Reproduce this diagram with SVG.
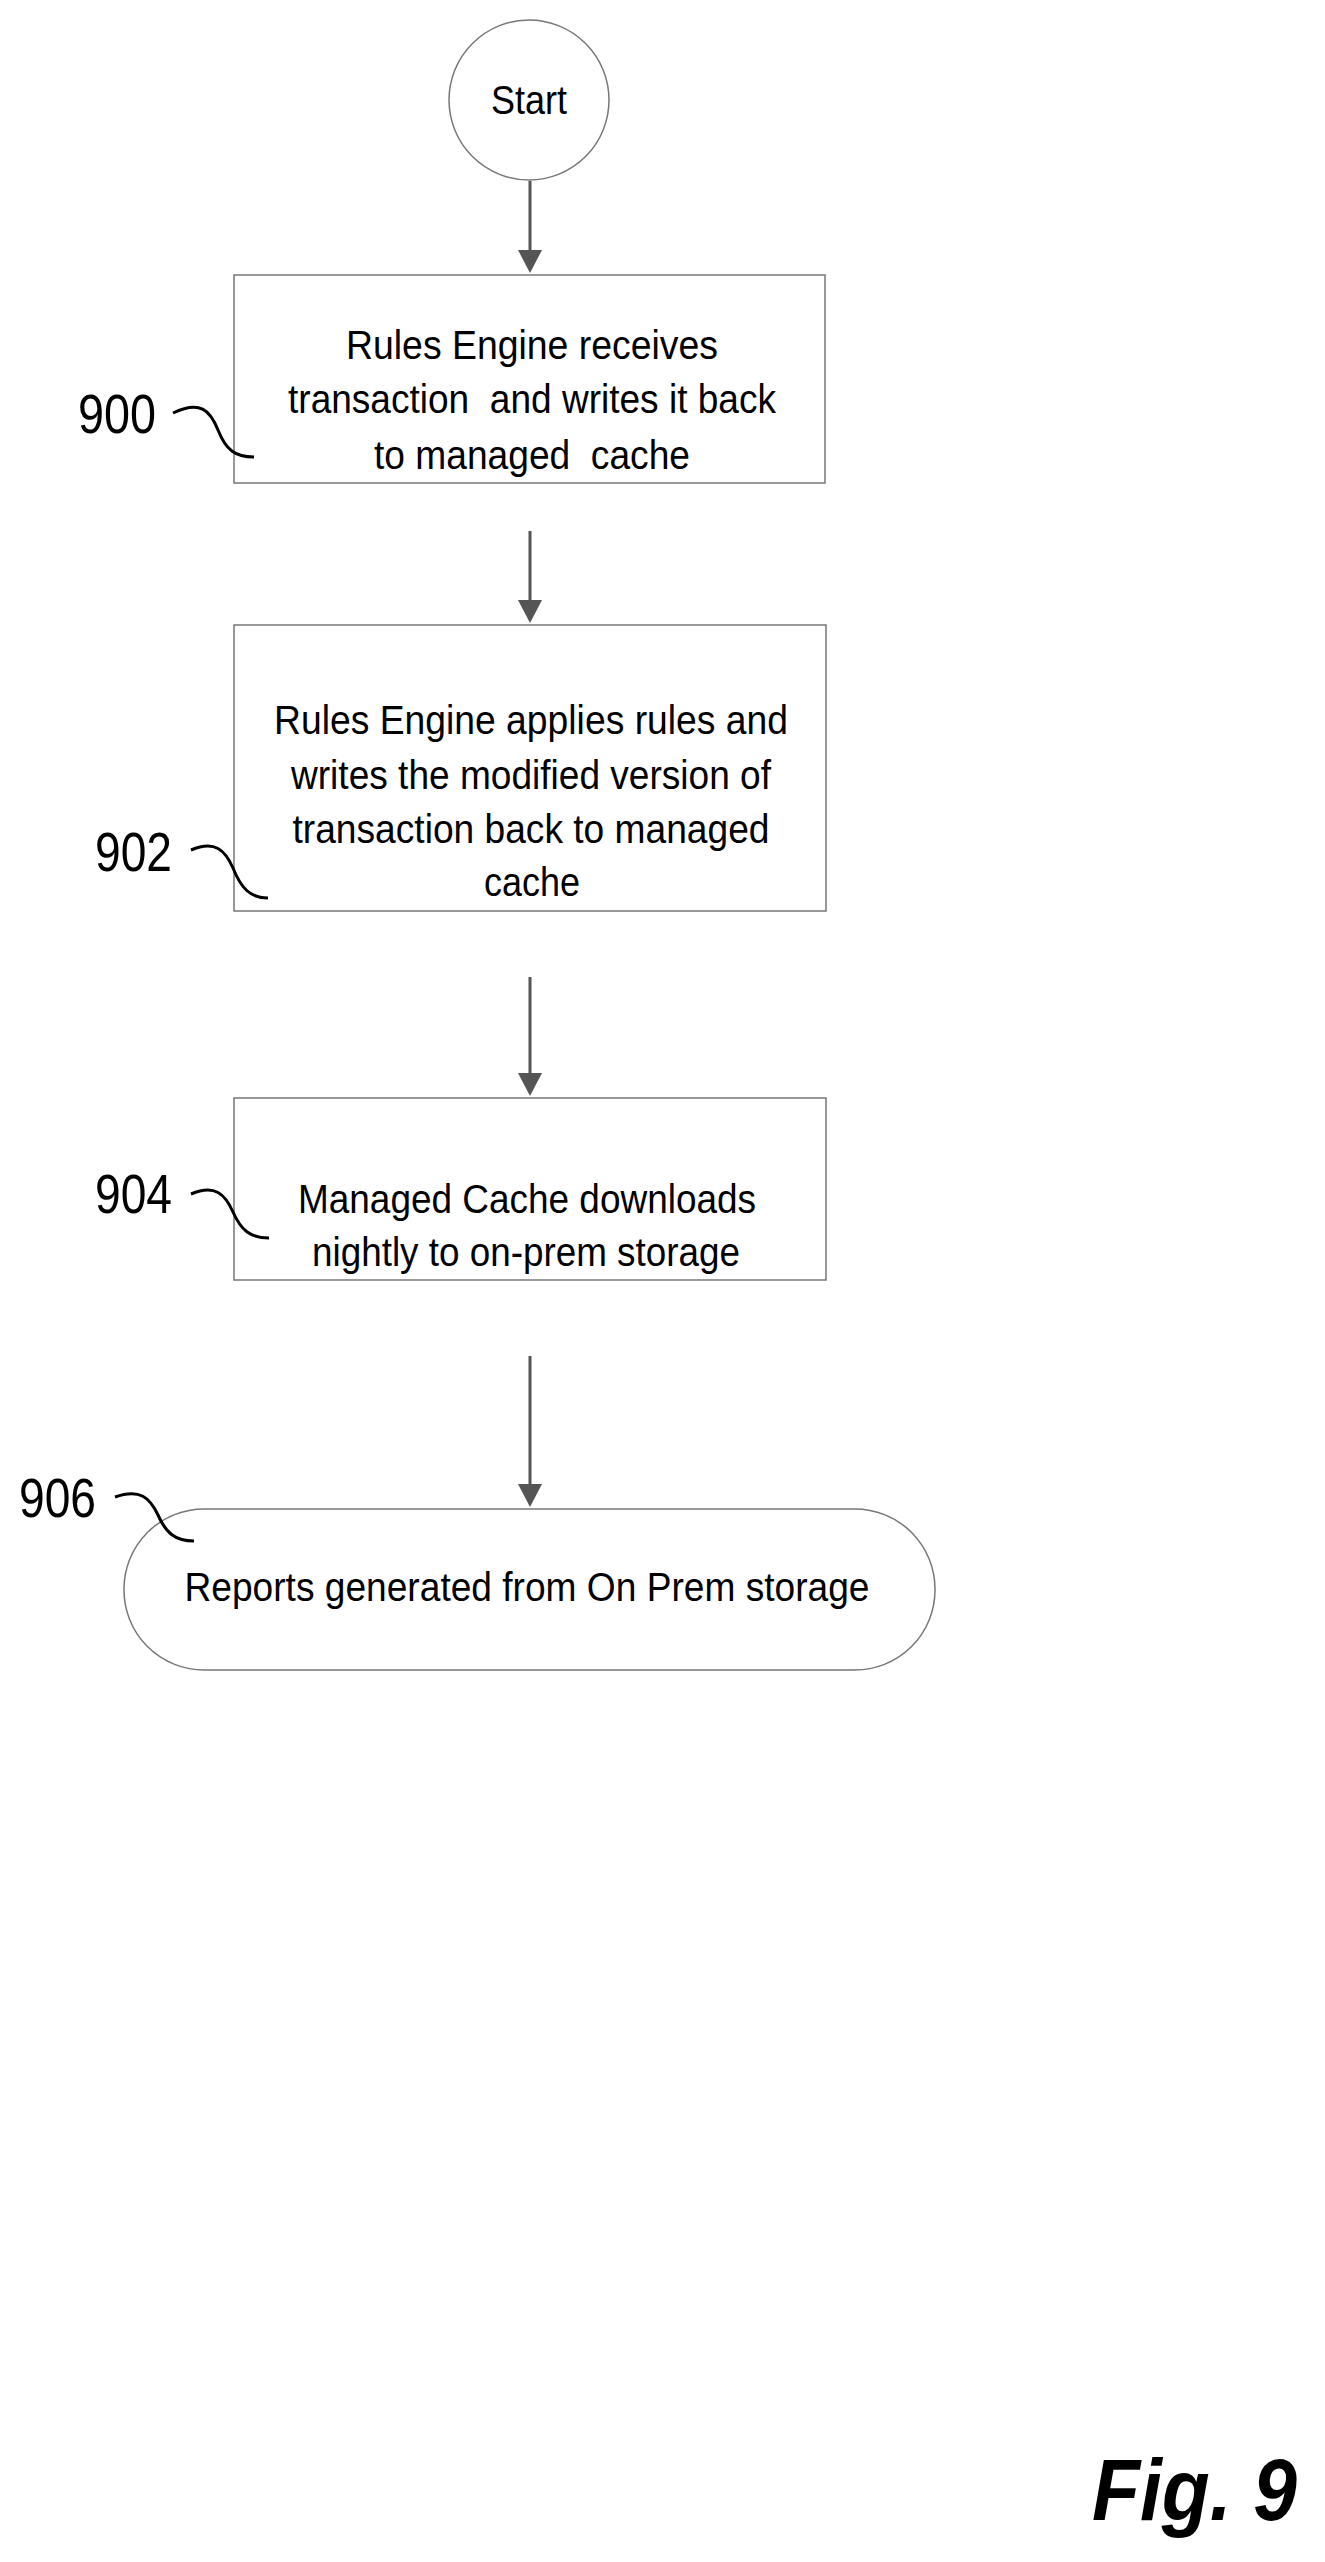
<svg xmlns="http://www.w3.org/2000/svg" width="1325" height="2562" viewBox="0 0 1325 2562">
<style>
.n{fill:#fff;stroke:#777;stroke-width:1.5}
.t{font-family:"Liberation Sans",Arial,sans-serif;font-size:40px;fill:#000;text-anchor:middle}
.l{font-family:"Liberation Sans",Arial,sans-serif;font-size:56px;fill:#000}
.c{fill:none;stroke:#555;stroke-width:3}
.s{fill:none;stroke:#000;stroke-width:3}
.h{fill:#555}
</style>
<rect width="1325" height="2562" fill="#fff"/>
<g id="connectors">
<line class="c" x1="530" y1="181" x2="530" y2="252"/>
<path class="h" d="M518,250 L542,250 L530,273 z"/>
<line class="c" x1="530" y1="531" x2="530" y2="602"/>
<path class="h" d="M518,600 L542,600 L530,623 z"/>
<line class="c" x1="530" y1="977" x2="530" y2="1075"/>
<path class="h" d="M518,1073 L542,1073 L530,1096 z"/>
<line class="c" x1="530" y1="1356" x2="530" y2="1486"/>
<path class="h" d="M518,1484 L542,1484 L530,1507 z"/>
</g>
<g id="start"><circle class="n" cx="529" cy="100" r="80"/><text class="t" x="529" y="114" textLength="76" lengthAdjust="spacingAndGlyphs">Start</text></g>
<g id="n900"><rect class="n" x="234" y="275" width="591" height="208"/>
<text class="t" x="532" y="359" textLength="372" lengthAdjust="spacingAndGlyphs">Rules Engine receives</text>
<text class="t" x="532" y="413" textLength="488" lengthAdjust="spacingAndGlyphs" xml:space="preserve">transaction  and writes it back</text>
<text class="t" x="532" y="469" textLength="316" lengthAdjust="spacingAndGlyphs" xml:space="preserve">to managed  cache</text>
<text class="l" x="78" y="433" textLength="78" lengthAdjust="spacingAndGlyphs">900</text>
<path class="s" d="M173,413 C200,400 210,410 218,430 C226,450 235,457 254,457"/></g>
<g id="n902"><rect class="n" x="234" y="625" width="592" height="286"/>
<text class="t" x="531" y="734" textLength="514" lengthAdjust="spacingAndGlyphs">Rules Engine applies rules and</text>
<text class="t" x="531" y="789" textLength="480" lengthAdjust="spacingAndGlyphs">writes the modified version of</text>
<text class="t" x="531" y="843" textLength="477" lengthAdjust="spacingAndGlyphs">transaction back to managed</text>
<text class="t" x="532" y="896" textLength="96" lengthAdjust="spacingAndGlyphs">cache</text>
<text class="l" x="95" y="871" textLength="77" lengthAdjust="spacingAndGlyphs">902</text>
<path class="s" d="M191,850 C215,840 225,850 233,868 C241,888 250,898 268,898"/></g>
<g id="n904"><rect class="n" x="234" y="1098" width="592" height="182"/>
<text class="t" x="527" y="1213" textLength="458" lengthAdjust="spacingAndGlyphs">Managed Cache downloads</text>
<text class="t" x="526" y="1266" textLength="428" lengthAdjust="spacingAndGlyphs">nightly to on-prem storage</text>
<text class="l" x="95" y="1213" textLength="77" lengthAdjust="spacingAndGlyphs">904</text>
<path class="s" d="M191,1194 C215,1184 225,1194 233,1212 C241,1230 250,1238 269,1238"/></g>
<g id="n906"><rect class="n" x="124" y="1509" width="811" height="161" rx="80" ry="80"/>
<text class="t" x="527" y="1601" textLength="685" lengthAdjust="spacingAndGlyphs">Reports generated from On Prem storage</text>
<text class="l" x="19" y="1517" textLength="77" lengthAdjust="spacingAndGlyphs">906</text>
<path class="s" d="M115,1497 C140,1488 150,1498 158,1515 C166,1533 175,1541 194,1541"/></g>
<text x="1092" y="2520" font-family="Liberation Sans,Arial,sans-serif" font-size="88" font-weight="bold" font-style="italic" textLength="205" lengthAdjust="spacingAndGlyphs">Fig. 9</text>
</svg>
